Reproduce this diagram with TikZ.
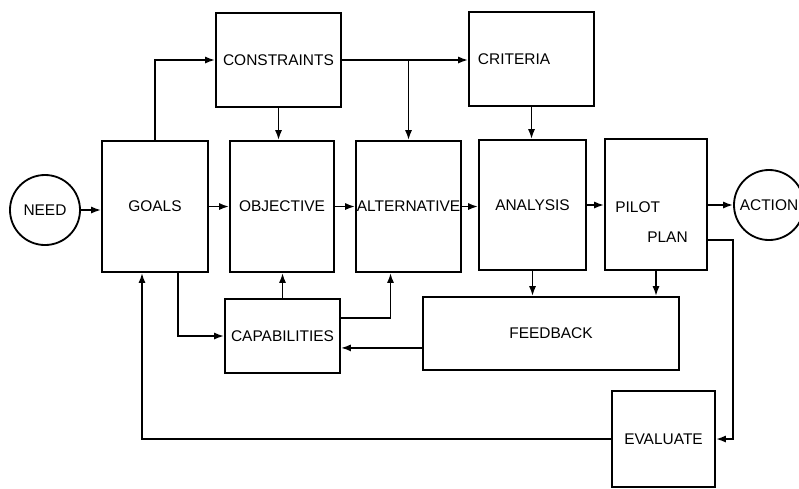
\documentclass[tikz,border=0pt]{standalone}
\usepackage{fontspec}
\setsansfont{Liberation Sans}
\usetikzlibrary{arrows.meta}

\begin{document}
\begin{tikzpicture}[x=0.025cm,y=-0.025cm,
  box/.style={draw,line width=1.3pt,inner sep=0pt,font=\sffamily\fontsize{11}{13}\selectfont},
  ring/.style={draw,circle,line width=1.3pt,inner sep=0pt,minimum size=1.75cm,font=\sffamily\fontsize{11}{13}\selectfont},
  tag/.style={inner sep=0pt,font=\sffamily\fontsize{11}{13}\selectfont},
  flow/.style={line width=1.3pt,-{Latex[length=7pt,width=5pt]}}]
\useasboundingbox (0,0) rectangle (799,488);
% top row
\node[box,minimum width=3.125cm,minimum height=2.35cm] (constraints) at (278.5,60) {CONSTRAINTS};
\node[box,minimum width=3.125cm,minimum height=2.35cm,text width=2.675cm,align=left] (criteria) at (531.5,59) {CRITERIA};
% main row
\node[ring] (need) at (45,210) {NEED};
\node[box,minimum width=2.65cm,minimum height=3.275cm] (goals) at (155,206.5) {GOALS};
\node[box,minimum width=2.6cm,minimum height=3.275cm] (objective) at (282,206.5) {OBJECTIVE};
\node[box,minimum width=2.625cm,minimum height=3.275cm] (alternative) at (408.5,206.5) {ALTERNATIVE};
\node[box,minimum width=2.675cm,minimum height=3.25cm] (analysis) at (532.5,205) {ANALYSIS};
\node[box,minimum width=2.55cm,minimum height=3.275cm] (pilot) at (656,204.5) {};
\node[tag,anchor=west] (pilotA) at (615,207) {PILOT};
\node[tag,anchor=west] (pilotB) at (647,237) {PLAN};
\node[ring] (action) at (769,205) {ACTION};
% lower row
\node[box,minimum width=2.875cm,minimum height=1.85cm] (capabilities) at (282.5,336) {CAPABILITIES};
\node[box,minimum width=6.4cm,minimum height=1.825cm] (feedback) at (551,333.5) {FEEDBACK};
\node[box,minimum width=2.575cm,minimum height=2.4cm] (evaluate) at (663.5,439) {EVALUATE};
% forward chain
\draw[flow] (need) -- (need -| goals.west);
\draw[flow] (goals.east) -- (objective.west);
\draw[flow] (objective.east) -- (alternative.west);
\draw[flow] (alternative.east) -- (alternative.east -| analysis.west);
\draw[flow] (analysis.east) -- (analysis.east -| pilot.west);
\draw[flow] (pilot.east |- action) -- (action.west);
% upper links
\draw[flow] (goals.north) |- (constraints.west);
\draw[flow] (constraints.east) -- (constraints.east -| criteria.west);
\draw[flow] (constraints.east -| alternative.north) -- (alternative.north);
\draw[flow] (constraints.south) -- (constraints.south |- objective.north);
\draw[flow] (criteria.south) -- (criteria.south |- analysis.north);
% lower links
\draw[flow] ([xshift=0.575cm]goals.south) |- (capabilities.west);
\draw[flow] (capabilities.north) -- (capabilities.north |- objective.south);
\draw[flow] ([yshift=0.45cm]capabilities.east) -| ([xshift=-0.45cm]alternative.south);
\draw[flow] ([yshift=-0.36cm]feedback.west) -- ([yshift=-0.36cm]feedback.west -| capabilities.east);
\draw[flow] (analysis.south) -- (analysis.south |- feedback.north);
\draw[flow] (pilot.south) -- (pilot.south |- feedback.north);
% evaluation loop
\draw[flow] ([yshift=-0.89cm]pilot.east) -- ++(25,0) |- (evaluate.east);
\draw[flow] (evaluate.west) -| ([xshift=-0.325cm]goals.south);
\end{tikzpicture}
\end{document}
